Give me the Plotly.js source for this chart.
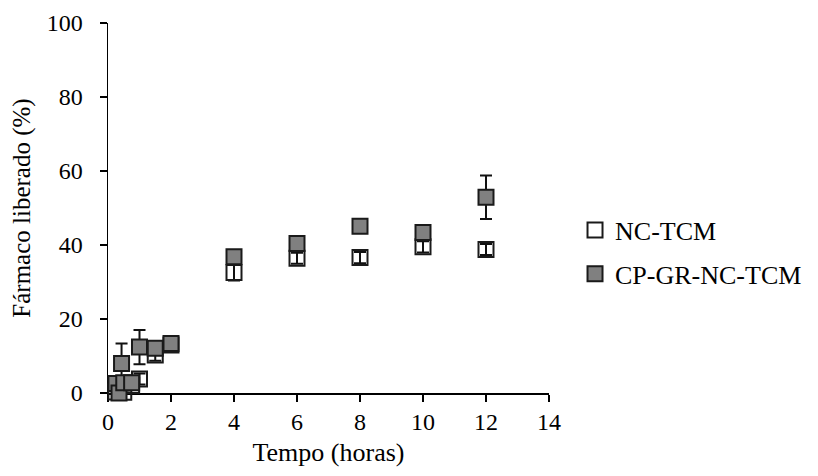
<!DOCTYPE html>
<html>
<head>
<meta charset="utf-8">
<script src="https://cdn.plot.ly/plotly-3.0.1.min.js"></script>
<style>html,body{margin:0;padding:0;background:#fff;}#chart{width:818px;height:476px;}</style>
</head>
<body>
<div id="chart"></div>
<script>
// NC-TCM (open squares)
var ncTime  = [0.25, 0.5, 0.75, 1, 1.5, 2, 4, 6, 8, 10, 12];
var ncValue = [0.3, 0.2, 2.0, 3.8, 10.3, 13.0, 32.6, 36.4, 36.6, 39.5, 38.8];
var ncError = [0.5, 0.5, 0.8, 1.5, 1.6, 1.0, 2.2, 1.5, 1.5, 1.5, 1.5];

// CP-GR-NC-TCM (grey squares)
var cpTime  = [0.25, 0.35, 0.43, 0.5, 0.75, 1, 1.5, 2, 4, 6, 8, 10, 12];
var cpValue = [2.6, 0.0, 8.0, 2.8, 2.8, 12.4, 12.1, 13.4, 36.8, 40.4, 45.1, 43.4, 52.9];
var cpError = [0.5, 0.5, 5.4, 0.5, 0.5, 4.6, 1.0, 1.0, 1.5, 1.0, 1.0, 1.5, 5.9];

var xTicks = [0, 2, 4, 6, 8, 10, 12, 14];
var yTicks = [0, 20, 40, 60, 80, 100];

var FONT = 'Liberation Serif, Times New Roman, serif';

var traces = [
  {
    name: 'NC-TCM', x: ncTime, y: ncValue, type: 'scatter', mode: 'markers',
    cliponaxis: false, legendgroup: 'a',
    marker: {symbol: 'square', size: 15, color: 'rgba(255,255,255,0)', line: {color: '#1a1a1a', width: 2}},
    error_y: {type: 'data', array: ncError, visible: true, color: '#111111', thickness: 2, width: 6}
  },
  {
    name: 'CP-GR-NC-TCM', x: cpTime, y: cpValue, type: 'scatter', mode: 'markers',
    cliponaxis: false, legendgroup: 'b',
    marker: {symbol: 'square', size: 15, color: '#808080', line: {color: '#1a1a1a', width: 2}},
    error_y: {type: 'data', array: cpError, visible: true, color: '#111111', thickness: 2, width: 6}
  }
];

var layout = {
  width: 818, height: 476,
  margin: {l: 108, r: 268, t: 23, b: 83},
  paper_bgcolor: '#ffffff', plot_bgcolor: '#ffffff',
  font: {family: FONT, size: 24, color: '#000000'},
  showlegend: true,
  legend: {
    x: 1.0566, y: 0.381, xanchor: 'left', yanchor: 'middle',
    font: {family: FONT, size: 26, color: '#000000'},
    itemsizing: 'trace', traceorder: 'grouped', tracegroupgap: 7,
    bgcolor: 'rgba(0,0,0,0)', borderwidth: 0
  },
  xaxis: {
    range: [0, 14], tickvals: xTicks, ticktext: xTicks.map(String),
    showgrid: false, zeroline: false, showline: true, linecolor: '#000', linewidth: 1.5,
    ticks: 'outside', ticklen: 7, tickwidth: 1.5, tickcolor: '#000',
    ticklabelstandoff: 0, layer: 'below traces',
    tickfont: {family: FONT, size: 24},
    title: {text: 'Tempo (horas)', font: {family: FONT, size: 26}, standoff: 8}
  },
  yaxis: {
    range: [0, 100], tickvals: yTicks, ticktext: yTicks.map(String),
    showgrid: false, zeroline: false, showline: true, linecolor: '#000', linewidth: 1.5,
    ticks: 'outside', ticklen: 7, tickwidth: 1.5, tickcolor: '#000',
    ticklabelstandoff: 12, layer: 'below traces',
    tickfont: {family: FONT, size: 24},
    title: {text: 'Fármaco liberado (%)', font: {family: FONT, size: 25}, standoff: 9}
  }
};

Plotly.newPlot('chart', traces, layout, {staticPlot: true, displayModeBar: false});
</script>
</body>
</html>
